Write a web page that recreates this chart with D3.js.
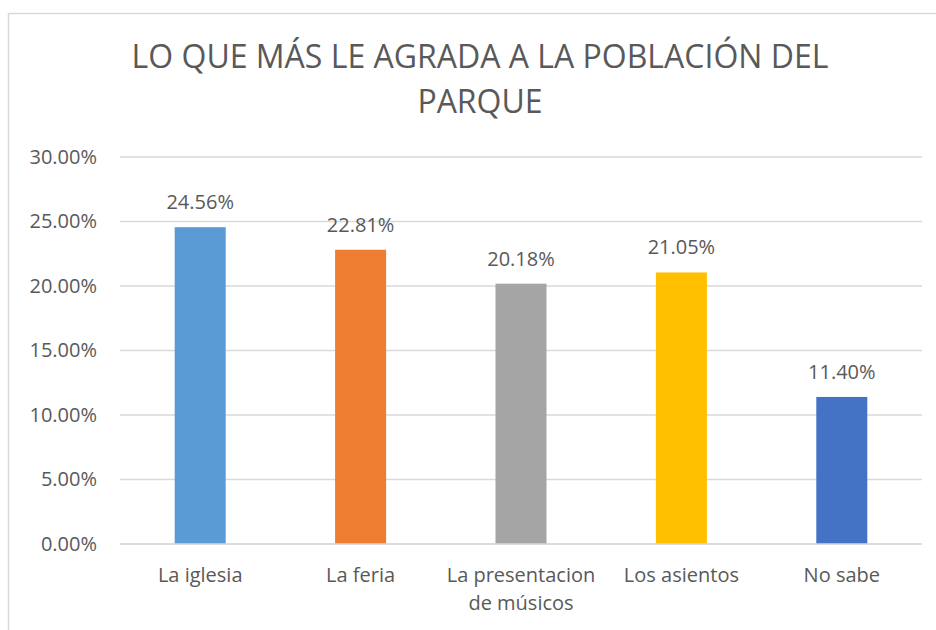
<!DOCTYPE html>
<html>
<head>
<meta charset="utf-8">
<script src="https://cdn.jsdelivr.net/npm/d3@7"></script>
<style>
  body { margin: 0; background: #fff; }
  text { font-family: "Open Sans", "Noto Sans", sans-serif; fill: #595959; }
</style>
</head>
<body>
<div id="chart"></div>
<script>
const titleLines = ['LO QUE MÁS LE AGRADA A LA POBLACIÓN DEL', 'PARQUE'];
const categories = ['La iglesia', 'La feria', 'La presentacion de músicos', 'Los asientos', 'No sabe'];
const values = [24.56, 22.81, 20.18, 21.05, 11.40];
const colors = ['#5B9BD5', '#ED7D31', '#A5A5A5', '#FFC000', '#4472C4'];
const yTicks = [0, 5, 10, 15, 20, 25, 30];

const width = 936;
const height = 630;
const margin = { top: 157, right: 14, bottom: 86, left: 120 };

const svg = d3.select('#chart')
  .append('svg')
  .attr('width', width)
  .attr('height', height);

// chart frame (right and bottom edges fall outside the picture)
svg.append('rect')
  .attr('x', 8.5)
  .attr('y', 13.5)
  .attr('width', 960)
  .attr('height', 640)
  .attr('fill', 'none')
  .attr('stroke', '#d9d9d9')
  .attr('stroke-width', 1.5);

// title
svg.append('g')
  .selectAll('text')
  .data(titleLines)
  .enter()
  .append('text')
  .attr('x', 480)
  .attr('y', (d, i) => 68 + i * 45)
  .attr('text-anchor', 'middle')
  .style('font-size', '32px')
  .text(d => d);

const x = d3.scaleBand()
  .domain(categories)
  .range([margin.left, width - margin.right])
  .paddingInner(0.682)
  .paddingOuter(0.341);

const y = d3.scaleLinear()
  .domain([0, 30])
  .range([height - margin.bottom, margin.top]);

// gridlines
svg.append('g')
  .selectAll('line')
  .data(yTicks)
  .enter()
  .append('line')
  .attr('x1', margin.left)
  .attr('x2', width - margin.right)
  .attr('y1', d => y(d))
  .attr('y2', d => y(d))
  .attr('stroke', '#d9d9d9')
  .attr('stroke-width', 1.5);

// y axis labels
const yAxis = svg.append('g')
  .attr('transform', `translate(${margin.left - 23},0)`)
  .call(d3.axisLeft(y).tickValues(yTicks).tickFormat(d => d.toFixed(2) + '%').tickSize(0).tickPadding(0));
yAxis.select('.domain').remove();
yAxis.selectAll('text')
  .style('font-size', '20px')
  .style('font-family', '"Open Sans", sans-serif')
  .attr('fill', '#595959');

// bars
svg.append('g')
  .selectAll('rect')
  .data(values)
  .enter()
  .append('rect')
  .attr('x', (d, i) => x(categories[i]))
  .attr('y', d => y(d))
  .attr('width', x.bandwidth())
  .attr('height', d => y(0) - y(d))
  .attr('fill', (d, i) => colors[i]);

// redraw baseline over bars
svg.append('line')
  .attr('x1', margin.left)
  .attr('x2', width - margin.right)
  .attr('y1', y(0))
  .attr('y2', y(0))
  .attr('stroke', '#d9d9d9')
  .attr('stroke-width', 1.5);

// data labels
svg.append('g')
  .selectAll('text')
  .data(values)
  .enter()
  .append('text')
  .attr('x', (d, i) => x(categories[i]) + x.bandwidth() / 2)
  .attr('y', d => y(d) - 18)
  .attr('text-anchor', 'middle')
  .style('font-size', '20px')
  .text(d => d.toFixed(2) + '%');

// category labels, wrapped to the band width
const xAxis = svg.append('g')
  .attr('transform', `translate(0,${y(0)})`)
  .call(d3.axisBottom(x).tickSize(0).tickPadding(0));
xAxis.select('.domain').remove();
xAxis.selectAll('text')
  .style('font-size', '20px')
  .style('font-family', '"Open Sans", sans-serif')
  .attr('fill', '#595959')
  .attr('dy', null)
  .attr('y', 38)
  .each(function(label) {
    const t = d3.select(this);
    const words = label.split(' ');
    t.text(null);
    let line = [];
    let lineNo = 0;
    let tspan = t.append('tspan').attr('x', 0).attr('y', 38);
    words.forEach(word => {
      line.push(word);
      tspan.text(line.join(' '));
      if (tspan.node().getComputedTextLength() > x.step() - 4 && line.length > 1) {
        line.pop();
        tspan.text(line.join(' '));
        line = [word];
        lineNo += 1;
        tspan = t.append('tspan').attr('x', 0).attr('y', 38 + lineNo * 28).text(word);
      }
    });
  });
</script>
</body>
</html>
